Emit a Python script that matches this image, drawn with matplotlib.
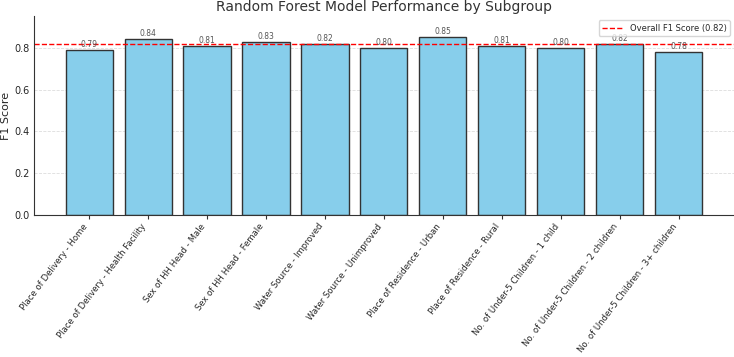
import matplotlib.pyplot as plt
import seaborn as sns
import numpy as np

subgroups = ["Place of Delivery - Home", "Place of Delivery - Health Facility",
             "Sex of HH Head - Male", "Sex of HH Head - Female",
             "Water Source - Improved", "Water Source - Unimproved",
             "Place of Residence - Urban", "Place of Residence - Rural",
             "No. of Under-5 Children - 1 child", "No. of Under-5 Children - 2 children",
             "No. of Under-5 Children - 3+ children"]
f1_scores = [0.79, 0.84, 0.81, 0.83, 0.82, 0.80, 0.85, 0.81, 0.80, 0.82, 0.78]
overall_f1 = 0.82

sns.set_style("white")
plt.rcParams['font.family'] = ['DejaVu Sans']

fig = plt.figure(figsize=(7.34, 3.57), dpi=100)
ax = fig.add_axes([0.046, 0.398, 0.954, 0.557])

x = np.arange(len(subgroups))
bars = ax.bar(x, f1_scores, width=0.8, color="skyblue", edgecolor="#333333", linewidth=1)
for b, v in zip(bars, f1_scores):
    ax.text(b.get_x() + b.get_width() / 2, v + 0.005, f"{v:.2f}", ha="center", va="bottom",
            fontsize=5.5, color="#555555")

ax.axhline(overall_f1, color="red", linestyle="--", linewidth=1, label=f"Overall F1 Score ({overall_f1:.2f})")

ax.set_xlim(-0.94, 10.94)
ax.set_ylim(0, max(f1_scores) * 1.12)
ax.set_xticks(x)
ax.set_xticklabels(subgroups, rotation=53, ha="right", fontsize=6.1)
ax.tick_params(axis="y", labelsize=7, length=0, pad=3)
ax.tick_params(axis="x", length=3, width=0.8, color="#333333", bottom=True, pad=2)
ax.yaxis.grid(True, linestyle="--", color="#dddddd", linewidth=0.6)
ax.set_axisbelow(True)
ax.set_ylabel("F1 Score", fontsize=8, va="center")
ax.yaxis.set_label_coords(-0.039, 0.5)
ax.set_title("Random Forest Model Performance by Subgroup", fontsize=10, color="#333333", pad=4)
ax.legend(loc="upper right", fontsize=6, frameon=True, handlelength=2.5)
ax.spines["top"].set_visible(False)
ax.spines["right"].set_visible(False)
ax.spines["left"].set_color("#333333")
ax.spines["bottom"].set_color("#333333")

fig.savefig("out.png", dpi=100)
